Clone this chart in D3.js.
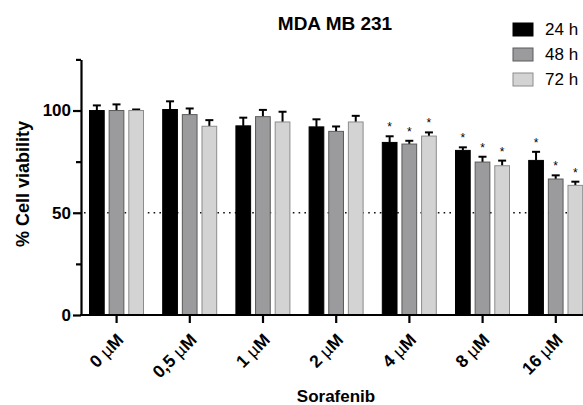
<!DOCTYPE html>
<html>
<head>
<meta charset="utf-8">
<script src="https://cdn.jsdelivr.net/npm/d3@7"></script>
<style>
  body { margin: 0; background: #fff; }
  text { font-family: Arial, "Liberation Sans", sans-serif; }
</style>
</head>
<body>
<div class="chart-area"></div>
<script>
const width = 583
const height = 405

// data
const doses = ['0 µM', '0,5 µM', '1 µM', '2 µM', '4 µM', '8 µM', '16 µM']
const series = ['24 h', '48 h', '72 h']
const colors = ['#000000', '#9b9b9e', '#d3d3d3']
const strokes = ['#000000', '#5a5a5a', '#8c8c8c']
const v24 = [100, 100.5, 92.5, 92, 84.4, 80.5, 75.6]
const v48 = [100, 98, 97, 89.8, 83.6, 74.8, 66.5]
const v72 = [100, 92.3, 94.4, 94.4, 87.5, 73, 63.4]
const e24 = [2.5, 4, 4, 3.7, 3, 1.5, 4.2]
const e48 = [3, 3, 3.3, 2.4, 1.6, 2.6, 1.8]
const e72 = [0.5, 3, 5, 3, 1.8, 2.5, 1.8]
const sig = [false, false, false, false, true, true, true]
const yTicks = [0, 50, 100]
const yMinor = [25, 75, 125]

const values = [v24, v48, v72]
const errors = [e24, e48, e72]

const svg = d3.select('.chart-area').append('svg')
    .attr('width', width)
    .attr('height', height)

const x = d3.scaleBand()
    .domain(doses)
    .range([80, 80 + 7 * 73.2])

const xs = d3.scaleBand()
    .domain(series)
    .range([9, 64])
    .paddingInner(0.2)

const y = d3.scaleLinear()
    .domain([0, 125])
    .range([315, 59.4])

// dotted 50% line behind bars
svg.append('line')
    .attr('x1', 84).attr('x2', width)
    .attr('y1', y(50)).attr('y2', y(50))
    .attr('stroke', '#111')
    .attr('stroke-width', 1.6)
    .attr('stroke-dasharray', '1.6,4.2')

let bars = []
doses.forEach((d, i) => {
    series.forEach((s, j) => {
        bars.push({ dose: d, s: s, j: j, v: values[j][i], e: errors[j][i], sig: sig[i] })
    })
})

const g = svg.selectAll('g.bar')
    .data(bars)
    .enter()
    .append('g')
    .attr('class', 'bar')
    .attr('transform', d => `translate(${x(d.dose) + xs(d.s)},0)`)

// error bars (upper half only)
g.append('line')
    .attr('x1', xs.bandwidth() / 2).attr('x2', xs.bandwidth() / 2)
    .attr('y1', d => y(d.v)).attr('y2', d => y(d.v + d.e))
    .attr('stroke', '#000').attr('stroke-width', 2)
g.append('line')
    .attr('x1', xs.bandwidth() / 2 - 4).attr('x2', xs.bandwidth() / 2 + 4)
    .attr('y1', d => y(d.v + d.e)).attr('y2', d => y(d.v + d.e))
    .attr('stroke', '#000').attr('stroke-width', 2)

g.append('rect')
    .attr('x', 0.5)
    .attr('width', xs.bandwidth() - 1)
    .attr('y', d => y(d.v))
    .attr('height', d => y(0) - y(d.v))
    .attr('fill', d => colors[d.j])
    .attr('stroke', d => strokes[d.j])
    .attr('stroke-width', 1)

g.filter(d => d.sig).append('text')
    .attr('x', xs.bandwidth() / 2)
    .attr('y', d => y(d.v + d.e) - 5)
    .attr('text-anchor', 'middle')
    .attr('font-size', 12)
    .text('*')

// y axis
const yAxis = svg.append('g')
    .attr('transform', 'translate(81,0)')
    .call(d3.axisLeft(y).tickValues(yTicks).tickSize(8).tickPadding(2).tickSizeOuter(0))
yAxis.select('.domain').attr('stroke-width', 2.2)
yAxis.selectAll('.tick line').attr('stroke-width', 2.2)
yAxis.selectAll('.tick text')
    .attr('font-size', 17).attr('font-weight', 'bold')
    .attr('font-family', 'Arial, "Liberation Sans", sans-serif')
    .attr('fill', '#000')
svg.append('g')
    .attr('transform', 'translate(81,0)')
    .call(d3.axisLeft(y).tickValues(yMinor).tickSize(5).tickFormat(''))
    .call(a => a.select('.domain').remove())
    .selectAll('.tick line').attr('stroke-width', 2.2)

// x axis
const xAxis = svg.append('g')
    .attr('transform', `translate(0,${y(0)})`)
    .call(d3.axisBottom(x).tickSize(8).tickSizeOuter(0).tickFormat(''))
xAxis.select('.domain').attr('d', `M80,0H${width}`).attr('stroke-width', 2.2)
xAxis.selectAll('.tick line').attr('stroke-width', 2.2)

const lab = svg.selectAll('text.xlab')
    .data(doses)
    .enter()
    .append('text')
    .attr('class', 'xlab')
    .attr('text-anchor', 'end')
    .attr('font-size', 17.5)
    .attr('font-weight', 'bold')
    .attr('transform', d => `translate(${x(d) + x.bandwidth() / 2 + 8},${y(0) + 26}) rotate(-45)`)
lab.append('tspan').text(d => d.split(' ')[0] + ' ')
lab.append('tspan').attr('font-weight', 'normal').text('µ')
lab.append('tspan').text('M')

// titles
svg.append('text')
    .attr('x', 335).attr('y', 30)
    .attr('text-anchor', 'middle')
    .attr('font-size', 19).attr('font-weight', 'bold')
    .text('MDA MB 231')

svg.append('text')
    .attr('transform', 'translate(29,184) rotate(-90)')
    .attr('text-anchor', 'middle')
    .attr('font-size', 18).attr('font-weight', 'bold')
    .text('% Cell viability')

svg.append('text')
    .attr('x', 336).attr('y', 402)
    .attr('text-anchor', 'middle')
    .attr('font-size', 17).attr('font-weight', 'bold')
    .text('Sorafenib')

// legend
const leg = svg.selectAll('g.leg')
    .data(series)
    .enter()
    .append('g')
    .attr('class', 'leg')
    .attr('transform', (d, i) => `translate(513,${23 + i * 25})`)
leg.append('rect')
    .attr('width', 20).attr('height', 13)
    .attr('fill', (d, i) => colors[i])
    .attr('stroke', (d, i) => strokes[i])
leg.append('text')
    .attr('x', 32).attr('y', 12)
    .attr('font-size', 17)
    .text(d => d)
</script>
</body>
</html>
